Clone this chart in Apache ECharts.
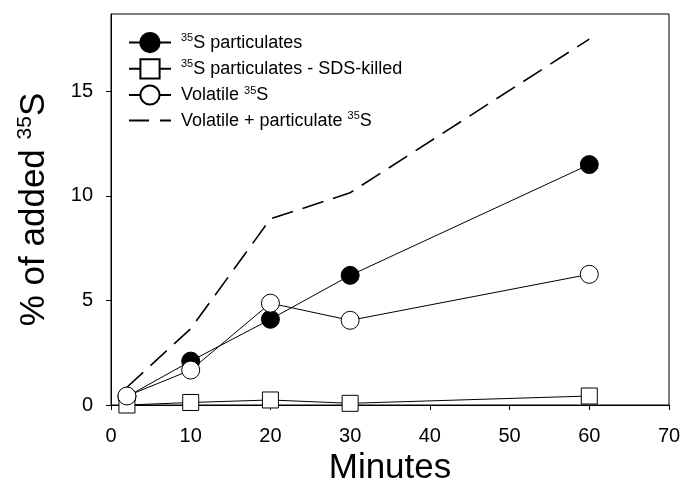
<!DOCTYPE html>
<html>
<head>
<meta charset="utf-8">
<script src="https://cdn.jsdelivr.net/npm/echarts@6/dist/echarts.min.js"></script>
<style>
  html, body { margin: 0; padding: 0; background: #fff; }
  #chart { width: 684px; height: 497px; }
</style>
</head>
<body>
<div id="chart"></div>
<script>
const minutes = [2, 10, 20, 30, 60];
const particulates = [0.4, 2.1, 4.1, 6.2, 11.5];
const sdsKilled = [0.0, 0.12, 0.24, 0.08, 0.43];
const volatile = [0.43, 1.67, 4.87, 4.05, 6.25];
const total = [0.85, 3.65, 8.9, 10.15, 17.5];
const yTicks = [0, 5, 10, 15];

const pairs = (ys) => minutes.map((m, i) => [m, ys[i]]);
const font = 'Liberation Sans, Arial, sans-serif';

const supRich = {
  n: { fontSize: 18, fontFamily: font, color: '#000', lineHeight: 20 },
  sup: { fontSize: 11, fontFamily: font, color: '#000', verticalAlign: 'top', lineHeight: 20 }
};

// legend icon for the dashed series: long dash, gap, short dash
const dashIcon = 'path://M0,0H20V2H0Z M31,0H42V2H31Z';

const chart = echarts.init(document.getElementById('chart'), null, { renderer: 'canvas' });

const option = {
  animation: false,
  backgroundColor: '#fff',
  grid: {
    left: 111, right: 15, top: 14, bottom: 92,
    show: true, borderColor: '#000', borderWidth: 1
  },
  legend: {
    orient: 'vertical',
    left: 123, top: 27,
    itemWidth: 42, itemHeight: 24, itemGap: 5,
    textStyle: { padding: [0, 0, 0, 5], rich: supRich },
    formatter: (name) => {
      const labels = {
        p: '{sup|35}{n|S particulates}',
        s: '{sup|35}{n|S particulates - SDS-killed}',
        v: '{n|Volatile }{sup|35}{n|S}',
        t: '{n|Volatile + particulate }{sup|35}{n|S}'
      };
      return labels[name];
    },
    data: ['p', 's', 'v', { name: 't', icon: dashIcon, itemStyle: { color: '#000' } }]
  },
  xAxis: {
    type: 'value',
    min: 0, max: 70, interval: 10,
    name: 'Minutes',
    nameLocation: 'middle',
    nameGap: 36,
    nameTextStyle: { fontSize: 35, fontFamily: font, color: '#000' },
    axisLine: { lineStyle: { color: '#000', width: 1 } },
    axisTick: { inside: false, length: 5, lineStyle: { color: '#000' } },
    axisLabel: { margin: 21, fontSize: 20, fontFamily: font, color: '#000' },
    splitLine: { show: false }
  },
  yAxis: {
    type: 'value',
    min: 0, max: 18.7,
    name: '{n|% of added }{sup|35}{n|S}',
    nameLocation: 'middle',
    nameGap: 58,
    nameRotate: 90,
    nameTextStyle: {
      rich: {
        n: { fontSize: 35, fontFamily: font, color: '#000', lineHeight: 38 },
        sup: { fontSize: 21, fontFamily: font, color: '#000', verticalAlign: 'top', lineHeight: 38 }
      }
    },
    axisLine: { show: true, lineStyle: { color: '#000', width: 1 } },
    axisTick: { show: true, length: 5, customValues: yTicks, lineStyle: { color: '#000' } },
    axisLabel: { margin: 18, fontSize: 20, fontFamily: font, color: '#000', customValues: yTicks },
    splitLine: { show: false }
  },
  series: [
    {
      name: 'p', type: 'line', data: pairs(particulates),
      symbol: 'circle', symbolSize: 18,
      lineStyle: { color: '#000', width: 1 },
      itemStyle: { color: '#000', borderColor: '#000', borderWidth: 1 }
    },
    {
      name: 's', type: 'line', data: pairs(sdsKilled),
      symbol: 'rect', symbolSize: 16,
      lineStyle: { color: '#000', width: 1 },
      itemStyle: { color: '#fff', borderColor: '#000', borderWidth: 1 }
    },
    {
      name: 'v', type: 'line', data: pairs(volatile),
      symbol: 'circle', symbolSize: 18,
      lineStyle: { color: '#000', width: 1 },
      itemStyle: { color: '#fff', borderColor: '#000', borderWidth: 1 }
    },
    {
      name: 't', type: 'line', data: pairs(total),
      symbol: 'none',
      lineStyle: { color: '#000', width: 1.6, type: [22, 10] },
      itemStyle: { color: '#000' }
    }
  ]
};

chart.setOption(option);
</script>
</body>
</html>
